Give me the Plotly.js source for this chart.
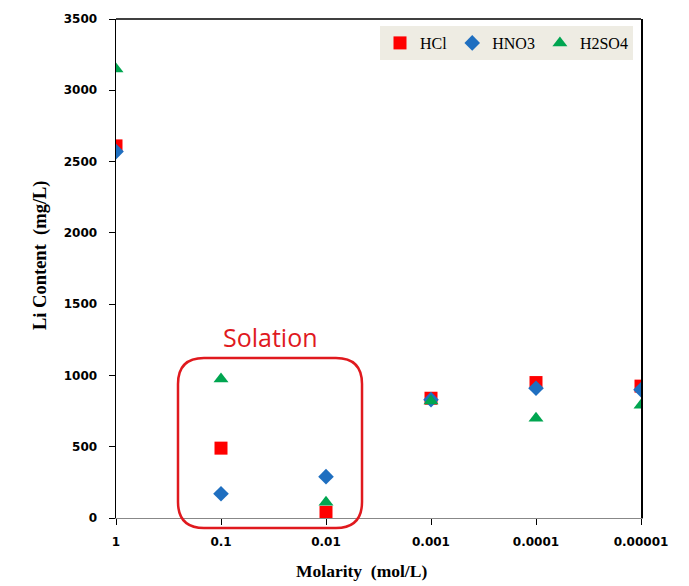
<!DOCTYPE html>
<html>
<head>
<meta charset="utf-8">
<script src="https://cdn.plot.ly/plotly-3.0.1.min.js"></script>
<style>html,body{margin:0;padding:0;background:#fff}#chart{width:689px;height:586px}</style>
</head>
<body>
<div id="chart"></div>
<script>
const molarity = [1, 0.1, 0.01, 0.001, 0.0001, 0.00001];
const tickLabels = ["1", "0.1", "0.01", "0.001", "0.0001", "0.00001"];
const hcl = [2610, 490, 40, 840, 950, 925];
const hno3 = [2570, 170, 290, 830, 910, 900];
const h2so4 = [3150, 975, 110, 820, 700, 790];

const W = 689, H = 586;
const L = 116, R = 48, T = 19, B = 68;
const pw = W - L - R, ph = H - T - B;
function px(x) { return (x - L) / pw; }
function py(y) { return (H - B - y) / ph; }

// rounded rectangle in paper coords
const bx0 = 178, bx1 = 362, by0 = 358, by1 = 528, rr = 26;
function roundRect() {
  const p = (x, y) => px(x).toFixed(4) + ',' + py(y).toFixed(4);
  return 'M' + p(bx0 + rr, by0) + ' L' + p(bx1 - rr, by0) +
    ' Q' + p(bx1, by0) + ' ' + p(bx1, by0 + rr) +
    ' L' + p(bx1, by1 - rr) +
    ' Q' + p(bx1, by1) + ' ' + p(bx1 - rr, by1) +
    ' L' + p(bx0 + rr, by1) +
    ' Q' + p(bx0, by1) + ' ' + p(bx0, by1 - rr) +
    ' L' + p(bx0, by0 + rr) +
    ' Q' + p(bx0, by0) + ' ' + p(bx0 + rr, by0) + ' Z';
}

const traces = [
  {x: molarity, y: hcl, name: 'HCl', mode: 'markers', type: 'scatter',
   marker: {symbol: 'square', size: 13, color: '#ff0000'}},
  {x: molarity, y: hno3, name: 'HNO3', mode: 'markers', type: 'scatter',
   marker: {symbol: 'diamond', size: 12, color: '#1f6fc0'}},
  {x: molarity, y: h2so4, name: 'H2SO4', mode: 'markers', type: 'scatter',
   marker: {symbol: 'triangle-up', size: 13, color: '#00a550'}}
];

const layout = {
  width: W, height: H,
  margin: {l: L, r: R, t: T, b: B},
  paper_bgcolor: '#fff', plot_bgcolor: '#fff',
  showlegend: true,
  legend: {
    orientation: 'h', x: px(633), y: py(26), xanchor: 'right', yanchor: 'top',
    bgcolor: '#eeece3', borderwidth: 0,
    font: {family: 'Liberation Serif', size: 16, color: '#000'},
    itemwidth: 30
  },
  xaxis: {
    type: 'log', range: [0, -5], autorange: false,
    tickvals: molarity, ticktext: tickLabels,
    ticks: 'outside', ticklen: 6, tickcolor: '#000',
    ticklabelstandoff: 7,
    showgrid: false, zeroline: false,
    showline: true, linecolor: '#888', linewidth: 1,
    tickfont: {family: 'DejaVu Sans', size: 12, color: '#000', weight: 'bold'}
  },
  yaxis: {
    range: [0, 3500], autorange: false,
    tickvals: [0, 500, 1000, 1500, 2000, 2500, 3000, 3500],
    ticks: 'outside', ticklen: 6, tickcolor: '#000',
    ticklabelstandoff: 9,
    showgrid: false, zeroline: false,
    showline: true, mirror: true, linecolor: '#000', linewidth: 1.5,
    tickfont: {family: 'DejaVu Sans', size: 12, color: '#000', weight: 'bold'}
  },
  shapes: [
    {type: 'line', xref: 'paper', yref: 'paper', x0: 0, x1: 1, y0: 1, y1: 1,
     line: {color: '#000', width: 1.5}},
    {type: 'path', xref: 'paper', yref: 'paper', path: roundRect(),
     line: {color: '#e0191e', width: 2.5}, fillcolor: 'rgba(0,0,0,0)'}
  ],
  annotations: [
    {xref: 'paper', yref: 'paper', x: px(270), y: py(337), text: 'Solation',
     showarrow: false, xanchor: 'center', yanchor: 'middle',
     font: {family: 'Open Sans', size: 25, color: '#e0191e'}},
    {xref: 'paper', yref: 'paper', x: px(361), y: py(571), text: 'Molarity  (mol/L)',
     showarrow: false, xanchor: 'center', yanchor: 'middle',
     font: {family: 'Liberation Serif', size: 17.5, color: '#000', weight: 'bold'}},
    {xref: 'paper', yref: 'paper', x: px(40), y: py(255), text: 'Li Content  (mg/L)',
     showarrow: false, xanchor: 'center', yanchor: 'middle', textangle: -90,
     font: {family: 'Liberation Serif', size: 18.5, color: '#000', weight: 'bold'}}
  ]
};

Plotly.newPlot('chart', traces, layout, {displayModeBar: false, staticPlot: true});
</script>
</body>
</html>
